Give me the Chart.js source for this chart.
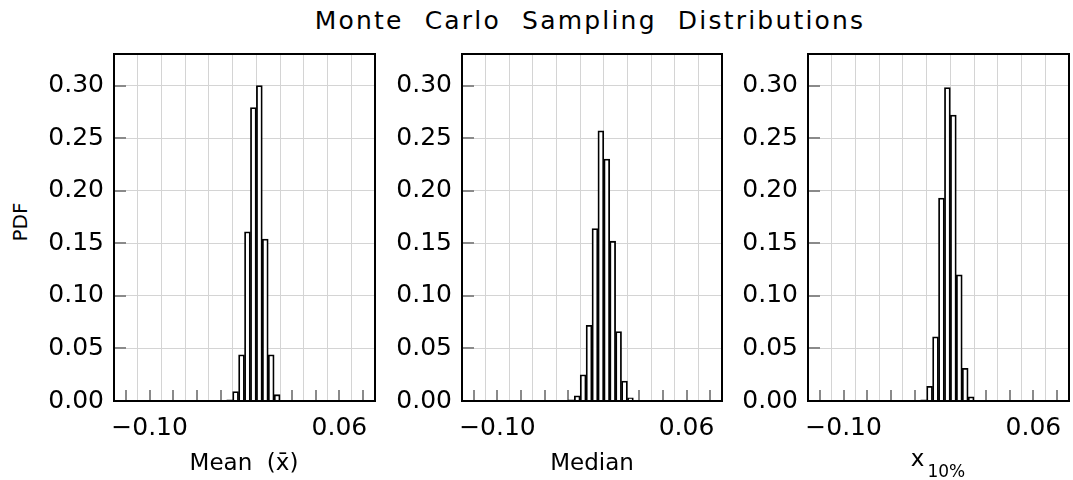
<!DOCTYPE html>
<html>
<head>
<meta charset="utf-8">
<script src="https://cdn.jsdelivr.net/npm/chart.js@4"></script>
<style>
  body { margin: 0; background: #fff; }
  #wrap { position: relative; width: 1073px; height: 480px; overflow: hidden; font-family: "DejaVu Sans", sans-serif; color: #000; }
  canvas { position: absolute; top: 0; }
  .txt { position: absolute; white-space: pre; line-height: 1; }
</style>
</head>
<body>
<div id="wrap">
  <div class="txt" id="title" style="left:0; width:1073px; top:8px; padding-left:107px; box-sizing:border-box; text-align:center; font-size:25px; letter-spacing:2.2px; word-spacing:11px;">Monte Carlo Sampling Distributions</div>
  <div class="txt" style="left:20px; top:222px; font-size:20px; transform: translate(-50%,-50%) rotate(-90deg);">PDF</div>
  <canvas id="c1" width="380" height="480" style="left:0"></canvas>
  <canvas id="c2" width="345" height="480" style="left:380px"></canvas>
  <canvas id="c3" width="348" height="480" style="left:725px"></canvas>
  <div class="txt" style="left:244px; top:451px; font-size:23px; transform: translateX(-50%);">Mean  (x̄)</div>
  <div class="txt" style="left:592px; top:451px; font-size:23px; transform: translateX(-50%);">Median</div>
  <div class="txt" style="left:938px; top:447px; font-size:23px; transform: translateX(-50%);">x<span style="font-size:17px; position:relative; top:11px; margin-left:3px;">10%</span></div>
</div>
<script>
// centros de las clases del histograma (ancho 0.005)
const binCenters = [-0.0375, -0.0325, -0.0275, -0.0225, -0.0175, -0.0125, -0.0075, -0.0025, 0.0025, 0.0075, 0.0125];

const meanPdf   = [0, 0.001, 0.009, 0.044, 0.161, 0.279, 0.300, 0.154, 0.044, 0.006, 0];
const medianPdf = [0.001, 0.005, 0.025, 0.072, 0.164, 0.257, 0.230, 0.152, 0.066, 0.019, 0.003];
const p10Pdf    = [0, 0.001, 0.014, 0.061, 0.193, 0.298, 0.272, 0.120, 0.031, 0.004, 0];

// ejes
const xMin = -0.12, xMax = 0.08, xStep = 0.02;
const xLabels = { '-0.1': '\u22120.10', '0.06': '0.06' };
const yMin = 0, yMax = 0.33, yStep = 0.05;

// marcas hacia dentro y marco negro
const frame = {
  id: 'frame',
  beforeDatasetsDraw(chart) {
    const { ctx, chartArea: a, scales: { x, y } } = chart;
    ctx.save();
    ctx.strokeStyle = '#8a8a8a';
    ctx.lineWidth = 2;
    x.ticks.forEach(t => {
      const px = Math.round(x.getPixelForValue(t.value));
      ctx.beginPath(); ctx.moveTo(px, a.bottom); ctx.lineTo(px, a.bottom - 11); ctx.stroke();
    });
    y.ticks.forEach(t => {
      const py = Math.round(y.getPixelForValue(t.value));
      ctx.beginPath(); ctx.moveTo(a.left, py); ctx.lineTo(a.left + 12, py); ctx.stroke();
    });
    ctx.restore();
  },
  afterDraw(chart) {
    const { ctx, chartArea: a } = chart;
    ctx.save();
    ctx.strokeStyle = '#000';
    ctx.lineWidth = 2;
    ctx.strokeRect(a.left, a.top, a.right - a.left, a.bottom - a.top);
    ctx.restore();
  }
};

function makePanel(id, values, yWidth, padRight) {
  new Chart(document.getElementById(id), {
    type: 'bar',
    data: {
      datasets: [{
        data: binCenters.map((c, i) => ({ x: c, y: values[i] })),
        backgroundColor: '#fff',
        borderColor: '#000',
        borderWidth: 1.8,
        barPercentage: 1,
        categoryPercentage: 1,
        grouped: false
      }]
    },
    options: {
      responsive: false,
      animation: false,
      layout: { padding: { left: 0, right: padRight, top: 54, bottom: 34 } },
      plugins: { legend: { display: false }, tooltip: { enabled: false } },
      scales: {
        x: {
          type: 'linear',
          min: xMin, max: xMax,
          afterFit: s => { s.height = 45; },
          grid: { color: '#d4d4d4', lineWidth: 1, drawTicks: false },
          border: { display: false },
          ticks: {
            stepSize: xStep, autoSkip: false, maxRotation: 0, padding: 12,
            color: '#000', font: { family: 'DejaVu Sans', size: 25 },
            callback: v => xLabels[String(Math.round(v * 100) / 100)] || ''
          }
        },
        y: {
          min: yMin, max: yMax,
          afterFit: s => { s.width = yWidth; },
          grid: { color: '#d4d4d4', lineWidth: 1, drawTicks: false },
          border: { display: false },
          ticks: {
            stepSize: yStep, includeBounds: false, padding: 10,
            color: '#000', font: { family: 'DejaVu Sans', size: 25 },
            callback: v => v.toFixed(2)
          }
        }
      }
    },
    plugins: [frame]
  });
}

makePanel('c1', meanPdf, 114, 5);
makePanel('c2', medianPdf, 82, 3);
makePanel('c3', p10Pdf, 83, 4);
</script>
</body>
</html>
